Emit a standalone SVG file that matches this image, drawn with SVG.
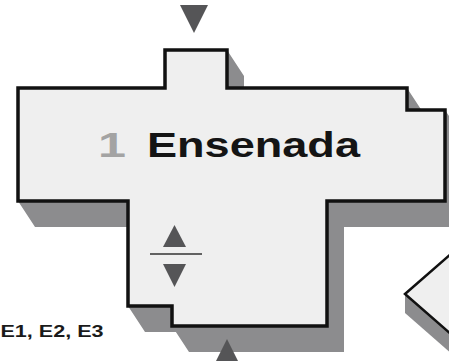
<svg xmlns="http://www.w3.org/2000/svg" width="449" height="361" viewBox="0 0 449 361">
<style>
.shadow{fill:#8c8c8e;stroke:none}
.body{fill:#efefef;stroke:#111;stroke-width:3.5;stroke-linejoin:miter}
.tri{fill:#555557;stroke:none}
.label{font-family:"Liberation Sans",Arial,sans-serif;font-weight:bold}
</style>
<rect width="449" height="361" fill="#ffffff"/>
<g id="connectors">
<polygon class="tri" points="180,5 208,5 194,33"/>
</g>
<g id="node-ensenada">
<polygon class="shadow" points="165,50 227,50 244,76 244,88 407,88 421.4,110 445,110 462,136 462,227 344,227 344,352 189,352 175.9,332 145,332 128,306 128,227 35,227 18,201 18,88 165,88"/>
<polygon class="body" points="165,50 227,50 227,88 407,88 407,110 445,110 445,201 327,201 327,326 172,326 172,306 128,306 128,201 18,201 18,88 165,88"/>
<text class="label" x="98" y="157" font-size="35" fill="#a3a3a3" textLength="28" lengthAdjust="spacingAndGlyphs">1</text>
<text class="label" x="147" y="157" font-size="35" fill="#141414" textLength="213" lengthAdjust="spacingAndGlyphs">Ensenada</text>
<polygon class="tri" points="163,247 186,247 174.5,225"/>
<line x1="150" y1="254" x2="202" y2="254" stroke="#333" stroke-width="1.5"/>
<polygon class="tri" points="163,264 186,264 174.5,287"/>
</g>
<g id="node-next">
<polygon class="shadow" points="405,294 452,335 452,354 405,313"/>
<polygon fill="#efefef" stroke="#111" stroke-width="2.5" points="405,294 452,253 500,294 452,335"/>
</g>
<g id="connector-bottom">
<polygon class="tri" points="213,367 241,367 227,339"/>
</g>
<g id="label-e">
<text class="label" x="0.5" y="337" font-size="16" fill="#1a1a1a" textLength="103" lengthAdjust="spacingAndGlyphs">E1, E2, E3</text>
</g>
</svg>
